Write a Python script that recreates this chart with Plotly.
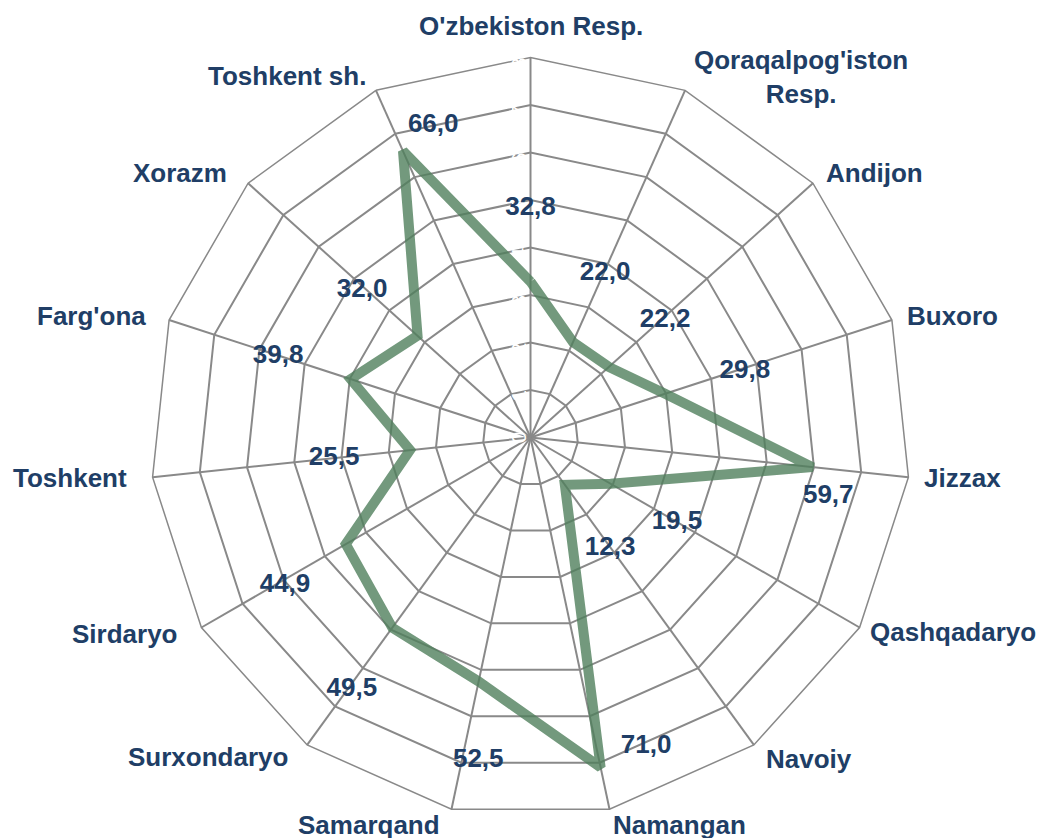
import math
import plotly.graph_objects as go

categories = ["O'zbekiston Resp.", "Qoraqalpog'iston<br>Resp.", "Andijon", "Buxoro", "Jizzax",
              "Qashqadaryo", "Navoiy", "Namangan", "Samarqand", "Surxondaryo", "Sirdaryo",
              "Toshkent", "Farg'ona", "Xorazm", "Toshkent sh."]
values = [32.8, 22.0, 22.2, 29.8, 59.7, 19.5, 12.3, 71.0, 52.5, 49.5, 44.9, 25.5, 39.8, 32.0, 66.0]

# ---- layout / style settings (not data) ----
# value-label placement: radial offset (axis units) and angular offset (deg) from each point
label_dr = [15.5, 16.0, 15.4, 17.4, 4.2, 16.1, 16.4, -1.5, 16.3, 15.6, 15.4, 16.1, 16.0, 15.1, 2.9]
label_dtheta = [0.0, 0.4, 0.9, 1.0, 5.2, 0.0, 0.3, -8.5, -2.8, -0.7, -1.0, -0.2, -0.2, -0.8, 6.7]
# category-label placement: radius (axis units) and angular offset (deg) from each spoke
cat_r = [86.6, 94.9, 91.3, 92.5, 91.3, 97.9, 89.6, 87.4, 88.4, 95.6, 94.8, 97.3, 96.0, 92.4, 91.8]
cat_dtheta = [0.0, 12.9, 4.4, 1.9, -0.6, -5.3, -4.9, -9.1, 10.6, 9.2, 4.1, 1.0, -2.5, -4.9, -9.9]

TEXT = "#203E66"
GRID = "#898989"
FONT = "Liberation Sans, Arial, sans-serif"
RMAX = 80

n = len(categories)
step = 360.0 / n
labels = [f"{v:.1f}".replace(".", ",") for v in values]

# page renders the figure with an 8px body margin; compensate so the chart sits as in the reference
R = 380
cx, cy = 530.5 - 8, 437.5 - 8
W, H = 1045, 838
dom_x = [(cx - R) / W, (cx + R) / W]
dom_y = [(H - cy - R) / H, (H - cy + R) / H]

fig = go.Figure()
fig.add_trace(go.Scatterpolar(
    r=values + values[:1], theta=categories + categories[:1],
    mode="lines", line=dict(color="rgba(80,128,92,0.8)", width=10),
    hoverinfo="skip", showlegend=False, subplot="polar"))

fig.add_trace(go.Scatterpolar(
    r=[v + d for v, d in zip(values, label_dr)],
    theta=[i * step + d for i, d in enumerate(label_dtheta)],
    mode="text", text=labels, cliponaxis=False,
    textfont=dict(family=FONT, size=26, color=TEXT, weight="bold"),
    hoverinfo="skip", showlegend=False, subplot="polar2"))

# category labels outside the polygon (placed through the same polar geometry)
for i, name in enumerate(categories):
    ang = math.radians(i * step + cat_dtheta[i])
    rad = cat_r[i] / RMAX * R
    px = cx + rad * math.sin(ang)
    py = cy - rad * math.cos(ang)
    fig.add_annotation(x=px / W, y=1 - py / H, xref="paper", yref="paper",
                       text=name, showarrow=False, xanchor="center", yanchor="middle",
                       align="center",
                       font=dict(family=FONT, size=26, color=TEXT, weight="bold"))

fig.update_layout(
    width=W, height=H,
    margin=dict(l=0, r=0, t=0, b=0),
    paper_bgcolor="white", plot_bgcolor="white",
    polar=dict(
        domain=dict(x=dom_x, y=dom_y),
        bgcolor="white",
        gridshape="linear",
        angularaxis=dict(direction="clockwise", rotation=90, type="category",
                         showline=True, linecolor=GRID, linewidth=1.5,
                         gridcolor=GRID, gridwidth=1.5, ticks="",
                         showticklabels=False),
        radialaxis=dict(range=[0, RMAX], dtick=10, angle=90, side="counterclockwise",
                        showline=False, gridcolor=GRID, gridwidth=1.5, ticks="",
                        tickfont=dict(family=FONT, size=21, color="white"),
                        tickangle=0),
    ),
    polar2=dict(
        domain=dict(x=dom_x, y=dom_y),
        bgcolor="rgba(0,0,0,0)",
        angularaxis=dict(direction="clockwise", rotation=90, type="linear",
                         showline=False, showgrid=False, showticklabels=False, ticks=""),
        radialaxis=dict(range=[0, RMAX], showline=False, showgrid=False,
                        showticklabels=False, ticks=""),
    ),
)

fig.write_html("out.html")
